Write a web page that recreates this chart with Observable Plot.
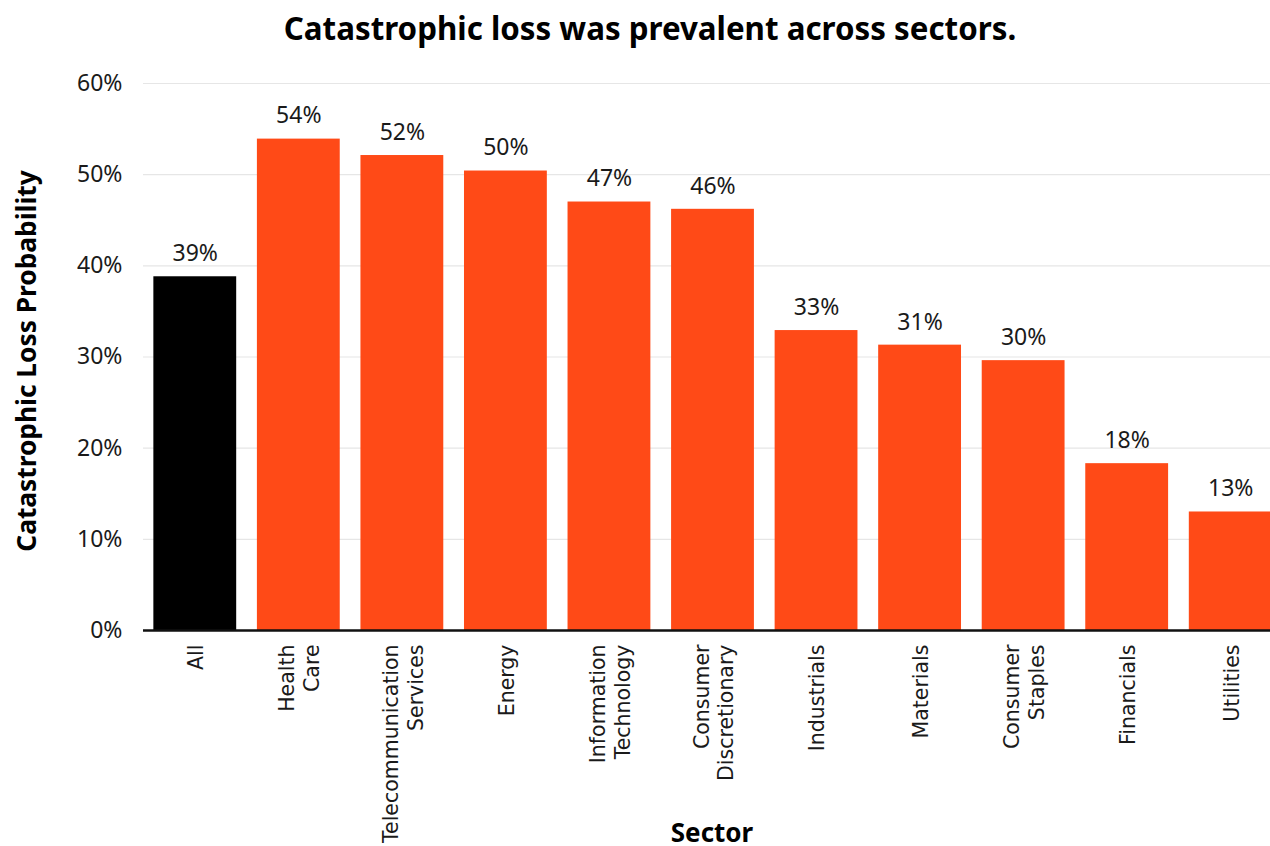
<!DOCTYPE html>
<html>
<head>
<meta charset="utf-8">
<script src="https://cdn.jsdelivr.net/npm/d3@7"></script>
<script src="https://cdn.jsdelivr.net/npm/@observablehq/plot@0.6"></script>
<style>
  html, body { margin: 0; padding: 0; background: #fff; overflow: hidden; }
  #wrap { position: relative; width: 1270px; height: 846px; overflow: hidden; }
  #title { position: absolute; left: 0; top: 7px; width: 1300px; text-align: center; line-height: 42px;
    font-family: "Noto Sans", sans-serif; font-weight: 700; font-size: 31.3px; color: #000; }
  #ylab { position: absolute; left: 26px; top: 361px; transform: translate(-50%, -50%) rotate(-90deg);
    white-space: nowrap; font-family: "Noto Sans", sans-serif; font-weight: 700; font-size: 26.3px; color: #000; line-height: 30px; }
  #xlab { position: absolute; left: 712px; top: 819px; transform: translateX(-50%); line-height: 26px;
    font-family: "Noto Sans", sans-serif; font-weight: 700; font-size: 26px; color: #000; }
  #chart { position: absolute; left: 0; top: 0; width: 1282px; height: 846px; }
  #chart svg { max-width: none !important; width: 1282px !important; height: 846px !important; }
</style>
</head>
<body>
<div id="wrap">
  <div id="chart"></div>
  <div id="title">Catastrophic loss was prevalent across sectors.</div>
  <div id="ylab">Catastrophic Loss Probability</div>
  <div id="xlab">Sector</div>
</div>
<script>
const sectors = ["All", "Health Care", "Telecommunication Services", "Energy", "Information Technology",
  "Consumer Discretionary", "Industrials", "Materials", "Consumer Staples", "Financials", "Utilities"];
const sectorLabels = ["All", "Health\nCare", "Telecommunication\nServices", "Energy", "Information\nTechnology",
  "Consumer\nDiscretionary", "Industrials", "Materials", "Consumer\nStaples", "Financials", "Utilities"];
const lossProbability = [38.8, 53.9, 52.1, 50.4, 47.0, 46.2, 32.9, 31.3, 29.6, 18.3, 13.0];
const yTicks = [0, 10, 20, 30, 40, 50, 60];

const data = sectors.map((s, i) => ({sector: s, label: sectorLabels[i], value: lossProbability[i]}));
const labelOf = new Map(data.map(d => [d.sector, d.label]));

const chart = Plot.plot({
  width: 1282,
  height: 846,
  marginLeft: 143,
  marginRight: 0,
  marginTop: 83,
  marginBottom: 216,
  style: {fontFamily: "Noto Sans, sans-serif", fontSize: "23px", color: "#1a1a1a", background: "transparent", overflow: "visible", maxWidth: "none"},
  x: {domain: sectors, paddingInner: 0.2, paddingOuter: 0.1, round: false, label: null},
  y: {domain: [0, 60], label: null},
  marks: [
    Plot.gridY(yTicks, {stroke: "#e6e6e6", strokeOpacity: 1, strokeWidth: 1.2}),
    Plot.axisY(yTicks, {tickSize: 0, tickPadding: 21, tickFormat: d => d + "%", fontSize: 23, label: null}),
    Plot.axisX({tickSize: 0, tickPadding: 14, tickRotate: -90, tickFormat: d => labelOf.get(d),
      fontSize: 20.5, fontFamily: "DejaVu Sans, sans-serif", lineHeight: 1.2, label: null}),
    Plot.barY(data, {x: "sector", y: "value", fill: d => d.sector === "All" ? "#000000" : "#FF4A17"}),
    Plot.text(data, {x: "sector", y: "value", text: d => Math.round(d.value) + "%", dy: -23, fontSize: 23, fill: "#1a1a1a"}),
    Plot.ruleY([0], {stroke: "#111", strokeWidth: 2.5})
  ]
});
document.getElementById("chart").appendChild(chart);
</script>
</body>
</html>
